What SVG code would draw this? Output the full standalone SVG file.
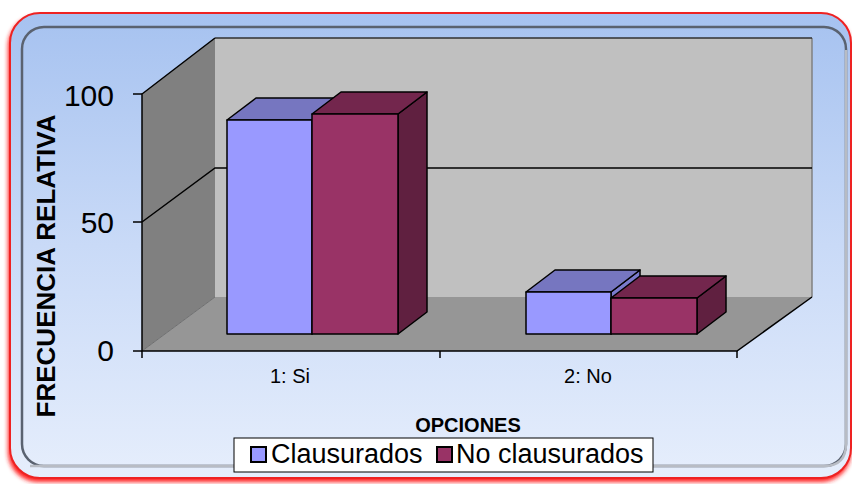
<svg xmlns="http://www.w3.org/2000/svg" width="852" height="484" viewBox="0 0 852 484">
<defs>
<linearGradient id="bg" x1="0" y1="0" x2="0" y2="1">
<stop offset="0" stop-color="#a6c2f0"/>
<stop offset="0.5" stop-color="#c9daf7"/>
<stop offset="1" stop-color="#e6eefc"/>
</linearGradient>
<filter id="sh" x="-5%" y="-5%" width="110%" height="115%">
<feGaussianBlur stdDeviation="2"/>
</filter>
</defs>
<style>
.edge{stroke:#000;stroke-width:1.5;stroke-linejoin:round}
.axis{stroke:#000;stroke-width:1.5;fill:none}
.c1{fill:#9999ff}.c1t{fill:#7676c0}.c1s{fill:#7a7acc}
.c2{fill:#993366}.c2t{fill:#73264d}.c2s{fill:#602040}
.tick{font-family:"Liberation Sans",Arial,sans-serif;font-size:30px;fill:#000}
.cat{font-family:"Liberation Sans",Arial,sans-serif;font-size:20px;fill:#000}
.ttl{font-family:"Liberation Sans",Arial,sans-serif;font-weight:bold;fill:#000}
.leg{font-family:"Liberation Sans",Arial,sans-serif;font-size:27px;fill:#000}
</style>
<g id="frame">
<rect x="8" y="16" width="843" height="466" rx="30" fill="#ff2020" filter="url(#sh)"/>
<rect x="10" y="13" width="841" height="465" rx="30" fill="url(#bg)" stroke="#ee2222" stroke-width="2"/>
<rect x="22" y="27" width="824" height="439" rx="22" fill="none" stroke="#5a6270" stroke-width="2.5"/>
<path d="M30 466 H824 Q846 466 846 444 V50" fill="none" stroke="#b8bcc4" stroke-width="2.5"/>
</g>
<g id="walls">
<polygon points="142,94 215,38 215,297 142,351" fill="#808080"/>
<polygon points="215,38 812,38 812,297 215,297" fill="#c0c0c0"/>
<polygon points="142,351 737,351 812,297 215,297" fill="#969696"/>
<line x1="142" y1="351" x2="215" y2="297" stroke="#707070" stroke-width="1"/>
<line x1="812" y1="38" x2="812" y2="297" stroke="#808080" stroke-width="1.5"/>
<line x1="215" y1="38" x2="812" y2="38" stroke="#303030" stroke-width="1.5"/>
</g>
<g id="connectors">
<polyline class="axis" points="142,222 215,168 812,168"/>
<polyline class="axis" points="215,38 142,94 142,351 737,351 812,297"/>
<line class="axis" x1="133" y1="94" x2="142" y2="94"/>
<line class="axis" x1="133" y1="222" x2="142" y2="222"/>
<line class="axis" x1="133" y1="351" x2="142" y2="351"/>
<line class="axis" x1="142" y1="351" x2="142" y2="358"/>
<line class="axis" x1="440" y1="351" x2="440" y2="358"/>
<line class="axis" x1="737" y1="351" x2="737" y2="358"/>
</g>
<g id="bar-si-clausurados" class="edge">
<polygon class="c1s" points="312,120 341,98 341,312 312,334"/>
<polygon class="c1t" points="227,120 256,98 341,98 312,120"/>
<rect class="c1" x="227" y="120" width="85" height="214"/>
</g>
<g id="bar-si-noclausurados" class="edge">
<polygon class="c2s" points="398,114 427,92 427,312 398,334"/>
<polygon class="c2t" points="312,114 341,92 427,92 398,114"/>
<rect class="c2" x="312" y="114" width="86" height="220"/>
</g>
<g id="bar-no-clausurados" class="edge">
<polygon class="c1s" points="611,292 640,270 640,312 611,334"/>
<polygon class="c1t" points="526,292 555,270 640,270 611,292"/>
<rect class="c1" x="526" y="292" width="85" height="42"/>
</g>
<g id="bar-no-noclausurados" class="edge">
<polygon class="c2s" points="697,298 726,276 726,312 697,334"/>
<polygon class="c2t" points="611,298 640,276 726,276 697,298"/>
<rect class="c2" x="611" y="298" width="86" height="36"/>
</g>
<g id="labels">
<text class="tick" x="114" y="106" text-anchor="end">100</text>
<text class="tick" x="114" y="233" text-anchor="end">50</text>
<text class="tick" x="114" y="361" text-anchor="end">0</text>
<text class="cat" x="290" y="383" text-anchor="middle">1: Si</text>
<text class="cat" x="588" y="383" text-anchor="middle">2: No</text>
<text class="ttl" x="468" y="432" font-size="20" text-anchor="middle">OPCIONES</text>
<text class="ttl" font-size="26" text-anchor="middle" transform="translate(55,266) rotate(-90)">FRECUENCIA RELATIVA</text>
</g>
<g id="legend">
<rect x="234" y="438" width="419" height="34" fill="#fff" stroke="#000" stroke-width="1"/>
<rect x="251" y="447" width="15" height="15" fill="#9999ff" stroke="#000" stroke-width="2"/>
<text class="leg" x="271" y="463">Clausurados</text>
<rect x="437" y="447" width="15" height="15" fill="#993366" stroke="#000" stroke-width="2"/>
<text class="leg" x="456" y="463">No clausurados</text>
</g>
</svg>
